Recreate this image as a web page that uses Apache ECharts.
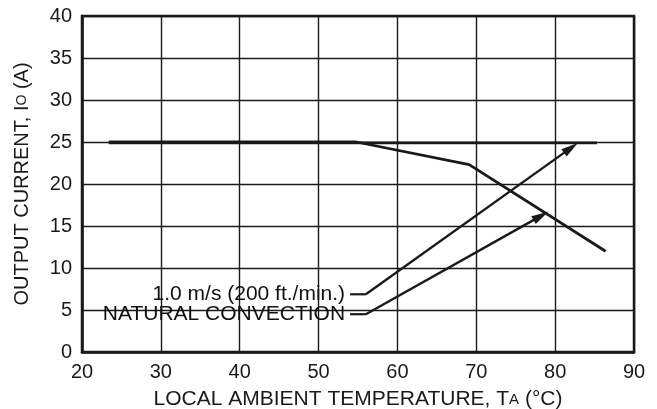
<!DOCTYPE html>
<html><head><meta charset="utf-8">
<script src="https://cdn.jsdelivr.net/npm/echarts@6/dist/echarts.min.js"></script>
<style>html,body{margin:0;padding:0;background:#fff}#c{width:657px;height:409px}</style>
</head><body><div id="c"></div>
<script>
// Curves
const naturalX = [23.4, 54.8, 69.1, 86.4];
const naturalY = [25, 25, 22.3, 12];
const airflowX = [23.4, 85.3];
const airflowY = [24.9, 24.9];
// Annotation leaders: [start, bend, arrow tip]
const airLeaderX = [54.0, 56.0, 82.0];
const airLeaderY = [6.87, 6.87, 24.3];
const natLeaderX = [54.0, 56.0, 78.2];
const natLeaderY = [4.5, 4.5, 16.2];
const annotationTexts = ['1.0 m/s (200 ft./min.)', 'NATURAL CONVECTION'];
const xMin = 20, xMax = 90, xStep = 10;
const yMin = 0, yMax = 40, yStep = 5;

const ink = '#1a1a1a';
const font = 'Liberation Sans, Arial, sans-serif';
const pts = (xs, ys) => xs.map((x, i) => [x, ys[i]]);

function leader(xs, ys) {
  return {
    type: 'line', silent: true, symbol: 'none', animation: false,
    data: pts(xs.slice(0, 2), ys.slice(0, 2)),
    lineStyle: { color: ink, width: 2.2 },
    markLine: {
      silent: true, animation: false, symbol: ['none', 'triangle'], symbolSize: [9, 17],
      label: { show: false }, lineStyle: { color: ink, width: 2.4, type: 'solid' },
      data: [[{ coord: [xs[1], ys[1]] }, { coord: [xs[2], ys[2]] }]]
    }
  };
}
function tag(xs, ys, text) {
  return {
    type: 'scatter', silent: true, symbolSize: 0.01, itemStyle: { color: ink, opacity: 1 },
    data: [[xs[0], ys[0]]],
    label: { show: true, position: 'left', distance: 5, formatter: text, opacity: 1,
      color: '#111', textBorderWidth: 0, fontSize: 21, fontFamily: font }
  };
}

const chart = echarts.init(document.getElementById('c'));
chart.setOption({
  animation: false,
  grid: { left: 82, right: 23, top: 16, bottom: 57, show: true, borderColor: ink, borderWidth: 2.5,
    containLabel: false, outerBoundsMode: 'none' },
  xAxis: {
    type: 'value', min: xMin, max: xMax, interval: xStep,
    name: 'LOCAL AMBIENT TEMPERATURE, T{s|A} (°C)', nameLocation: 'middle', nameGap: 37,
    nameTextStyle: { color: ink, fontSize: 21, fontFamily: font, rich: { s: { fontSize: 15, fontFamily: font, color: ink } } },
    axisLine: { show: true, lineStyle: { color: ink, width: 2.5 } },
    axisTick: { show: false },
    axisLabel: { color: ink, fontSize: 20, fontFamily: font, margin: 10 },
    splitLine: { show: true, lineStyle: { color: ink, width: 1.4 } }
  },
  yAxis: {
    type: 'value', min: yMin, max: yMax, interval: yStep,
    name: 'OUTPUT CURRENT, I{s|O} (A)', nameLocation: 'middle', nameGap: 50,
    nameTextStyle: { color: ink, fontSize: 20, fontFamily: font, rich: { s: { fontSize: 14, fontFamily: font, color: ink } } },
    axisLine: { show: true, lineStyle: { color: ink, width: 2.5 } },
    axisTick: { show: false },
    axisLabel: { color: ink, fontSize: 20, fontFamily: font, margin: 10 },
    splitLine: { show: true, lineStyle: { color: ink, width: 1.4 } }
  },
  series: [
    { type: 'line', symbol: 'none', silent: true, data: pts(airflowX, airflowY), lineStyle: { color: ink, width: 2.8 } },
    { type: 'line', symbol: 'none', silent: true, data: pts(naturalX, naturalY), lineStyle: { color: ink, width: 2.8 } },
    leader(airLeaderX, airLeaderY),
    leader(natLeaderX, natLeaderY),
    tag(airLeaderX, airLeaderY, annotationTexts[0]),
    tag(natLeaderX, natLeaderY, annotationTexts[1])
  ]
});
</script></body></html>
